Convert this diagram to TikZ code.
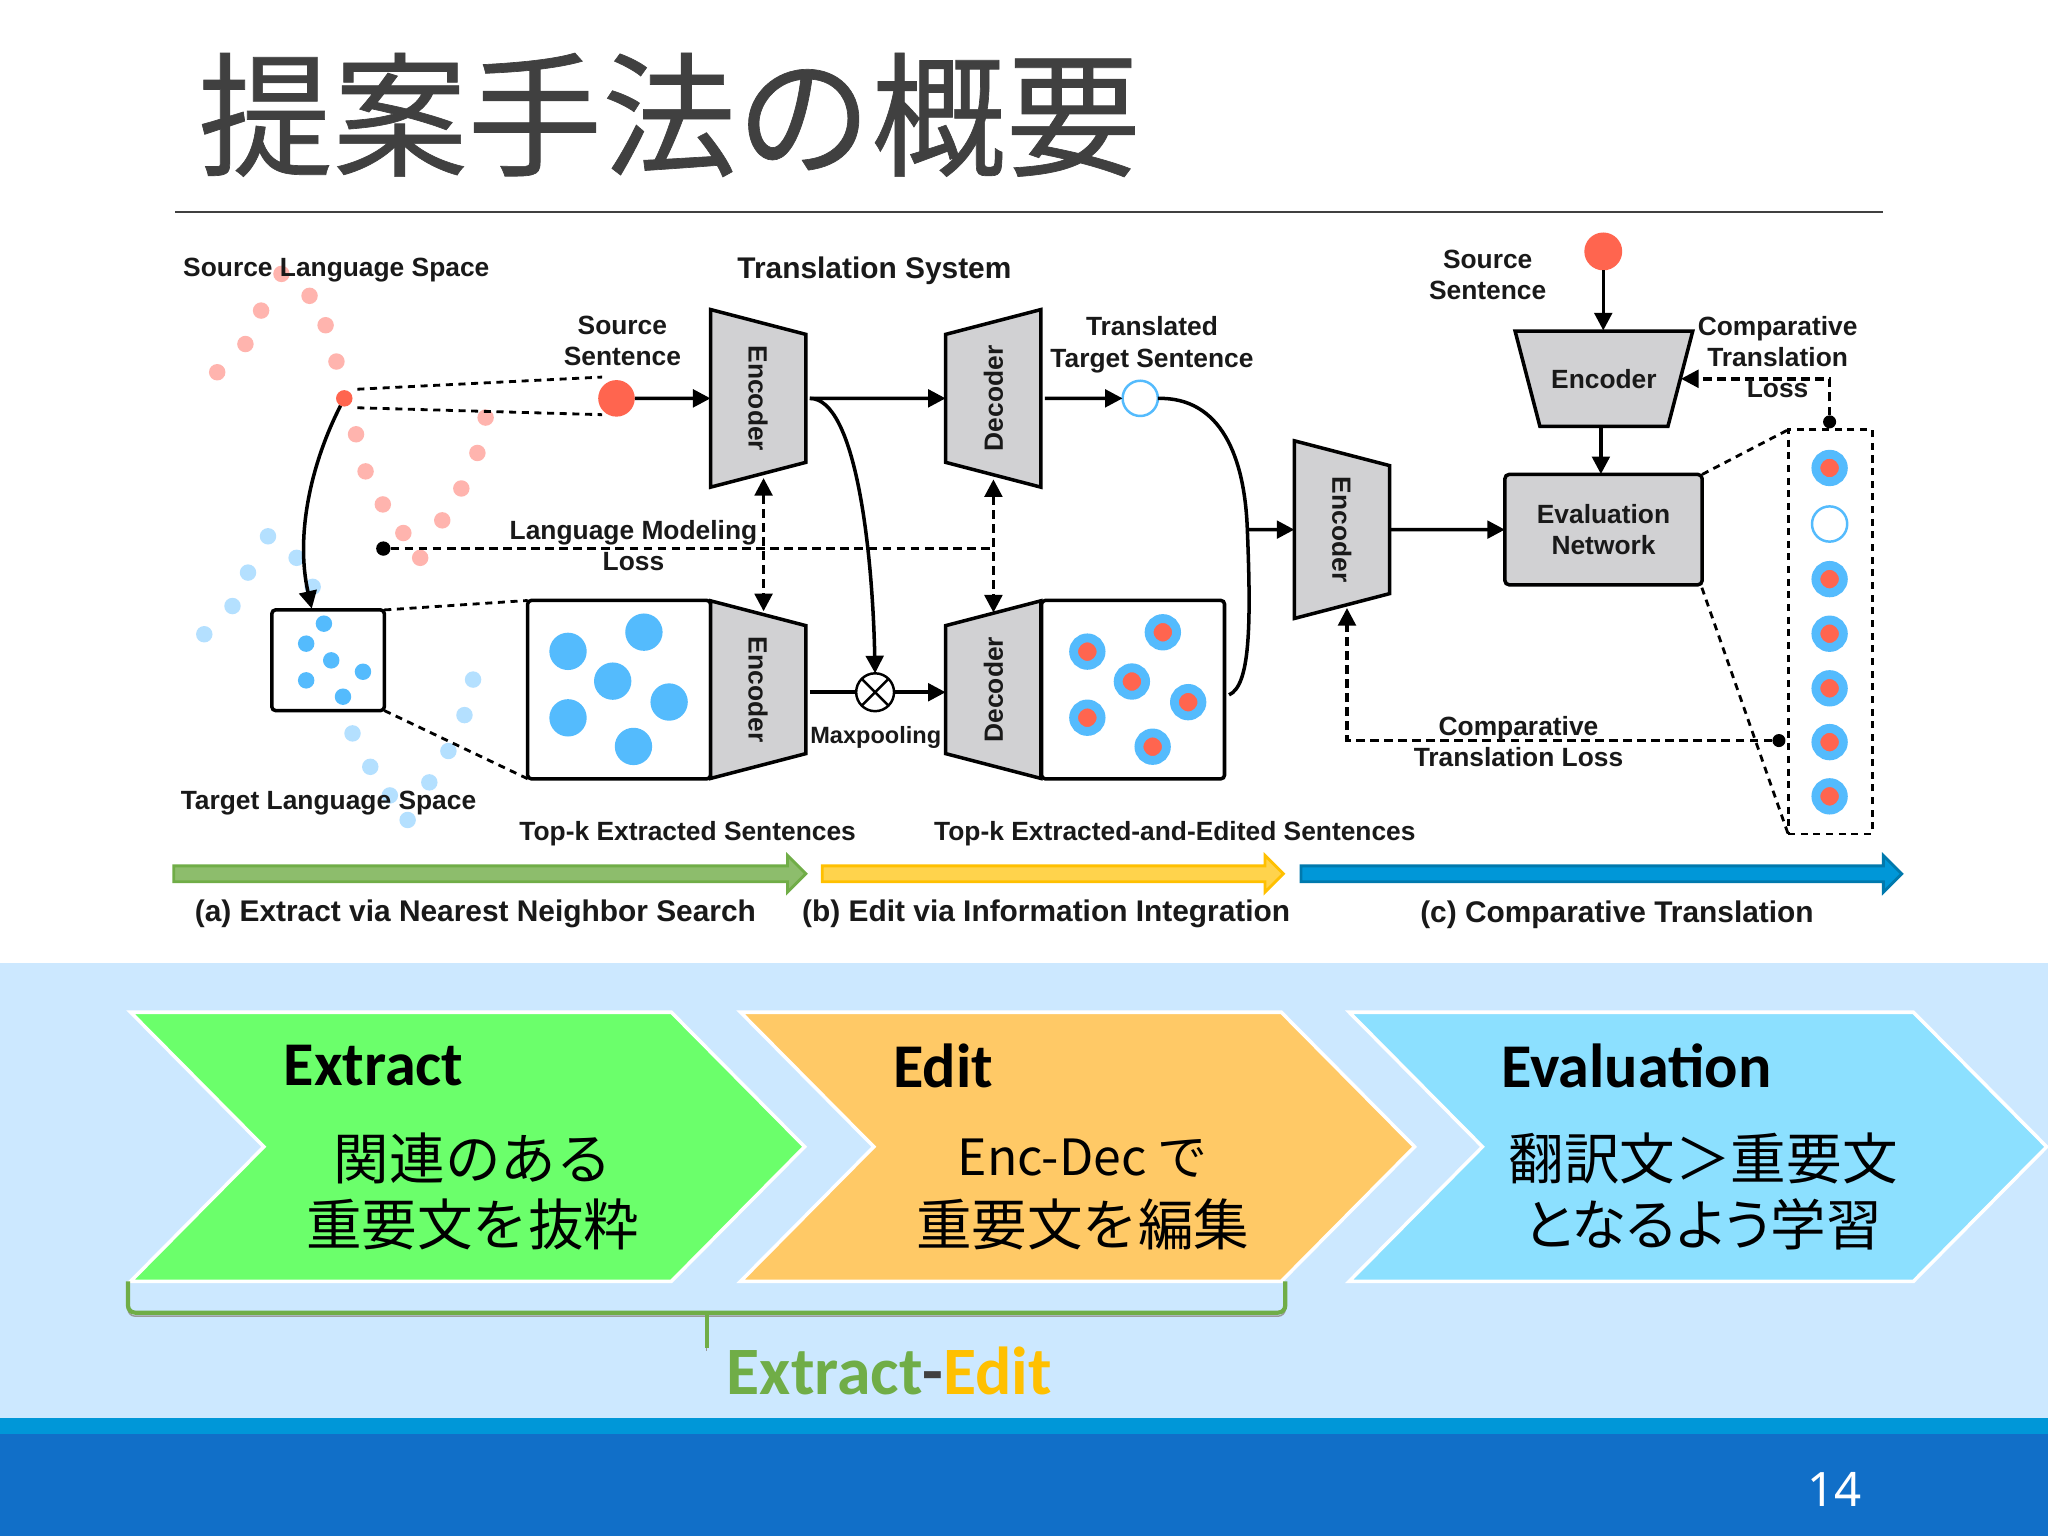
\documentclass[tikz,border=0pt]{standalone}
\usepackage{fontspec}
\setmainfont{Liberation Sans}
\newfontfamily\cjk{Noto Sans CJK JP}
\newfontfamily\cjkhead{Noto Sans CJK JP}[FakeBold=0.5]
\newfontfamily\cali{Carlito}
\usetikzlibrary{shapes.geometric,shapes.arrows,arrows.meta}
\newcommand{\un}{0.013061cm}
\newcommand{\stepchevron}[3]{\draw[stepshape,fill=#3] (#1,775) -- ++(#2,0) -- ++(102,103) -- ++(-102,103) -- ++(-#2,0) -- ++(102,-103) -- cycle;}
\definecolor{boxgray}{HTML}{D1D1D3}
\definecolor{srcred}{HTML}{FF654F}
\definecolor{srclight}{HTML}{FFB4AE}
\definecolor{tgtblue}{HTML}{54BBFD}
\definecolor{tgtlight}{HTML}{B4E0FF}
\definecolor{inkgray}{HTML}{404040}
\definecolor{paleblue}{HTML}{CCE8FF}
\definecolor{bandblue}{HTML}{0097D8}
\definecolor{footblue}{HTML}{116FC8}
\definecolor{extractgreen}{HTML}{70AD47}
\definecolor{editgold}{HTML}{FFC000}
\definecolor{stepgreen}{HTML}{6BFF6B}
\definecolor{steporange}{HTML}{FFC966}
\definecolor{stepblue}{HTML}{8CE0FF}
\begin{document}
\begin{tikzpicture}[
      x=0.013061cm,y=-0.013061cm,
      lbl/.style={font=\bfseries\fontsize{7.5}{8.9}\selectfont,align=center,inner sep=0,outer sep=0,text=black!90},
      big/.style={lbl,font=\bfseries\fontsize{8.5}{10}\selectfont},
      dot/.style={circle,inner sep=0,outer sep=0,minimum size=#1*\un},
      src/.style={dot=12.6,fill=srclight},
      tgt/.style={dot=12.6,fill=tgtlight},
      inbox/.style={dot=12.6,fill=tgtblue},
      large/.style={dot=28.6,fill=tgtblue},
      edited/.style={circle,inner sep=0,outer sep=0,minimum size=21*\un,fill=srcred,draw=tgtblue,line width=6.8*\un},
      open/.style={circle,inner sep=0,outer sep=0,minimum size=27*\un,fill=white,draw=tgtblue,line width=.7pt},
      trap/.style={trapezium,draw,fill=boxgray,line width=1pt,trapezium stretches body=true,trapezium left angle=75.4,trapezium right angle=75.4,minimum width=136*\un,lbl,inner xsep=0,inner ysep=10.81pt,text height=5.5pt,text depth=0pt},
      encoder/.style={trap,rotate=-90},
      decoder/.style={trap,rotate=90},
      sentbox/.style={draw,fill=white,line width=1pt,rounded corners=1pt,inner sep=0,outer sep=0},
      arr/.style={line width=1pt,-{Triangle[length=5pt,width=5pt]}},
      solid line/.style={line width=1pt},
      lossline/.style={line width=1pt,dash pattern=on 2.5pt off 1.5pt},
      zoomline/.style={line width=.8pt,dash pattern=on 2pt off 1.6pt},
      loss/.style={dot=11,fill=black},
      phase/.style={single arrow,single arrow head extend=8*\un,single arrow tip angle=90,minimum width=26*\un,inner xsep=0,inner ysep=5*\un,outer sep=0,line width=.8pt},
      stepshape/.style={draw=white,line width=1pt,line join=miter},
      steptitle/.style={font=\cali\bfseries\fontsize{17.7}{20}\selectfont,inner sep=0},
      steptext/.style={font=\cjk\fontsize{15.8}{18.8}\selectfont,align=center,inner sep=0},
      bracket/.style={draw=extractgreen,line width=1.2pt,rounded corners=2pt,preaction={draw=black!40,transform canvas={yshift=-1pt}}}
    ]
    \useasboundingbox (0,0) rectangle (1568,1176);

    % slide background
    \fill[white] (0,0) rectangle (1568,737);
    \fill[paleblue] (0,737) rectangle (1568,1086);
    \fill[bandblue] (0,1086) rectangle (1568,1098);
    \fill[footblue] (0,1098) rectangle (1568,1176);

    % title and rule
    \node[font=\cjkhead\fontsize{38.3}{40}\selectfont,text=inkgray,inner sep=0] (title) at (512.5,88) {提案手法の概要};
    \draw[inkgray,line width=.7pt] (134,162.5) -- (1442,162.5);

    % source language space
    \node[src] (s1) at (215.5,209.7) {};
    \node[src] (s2) at (237,226.5) {};
    \node[src] (s3) at (199.9,237.8) {};
    \node[src] (s4) at (249.3,249) {};
    \node[src] (s5) at (187.9,263.4) {};
    \node[src] (s6) at (257.6,276.8) {};
    \node[src] (s7) at (166.3,285) {};
    \node[src] (s8) at (272.6,332.5) {};
    \node[src] (s9) at (279.9,360.9) {};
    \node[src] (s10) at (293.1,386.2) {};
    \node[src] (s11) at (308.8,408.1) {};
    \node[src] (s12) at (321.7,427.1) {};
    \node[src] (s13) at (338.6,398.4) {};
    \node[src] (s14) at (353.2,374) {};
    \node[src] (s15) at (365.5,346.8) {};
    \node[src] (s16) at (371.8,319.7) {};
    \node[dot=12.6,fill=srcred] (picked) at (263.6,305) {};

    % target language space
    \node[tgt] (t1) at (205.2,410.6) {};
    \node[tgt] (t2) at (227.1,427.1) {};
    \node[tgt] (t3) at (189.9,438.4) {};
    \node[tgt] (t4) at (239.4,449.3) {};
    \node[tgt] (t5) at (178,464) {};
    \node[tgt] (t6) at (156.4,485.6) {};
    \node[tgt] (t7) at (362.2,520.3) {};
    \node[tgt] (t8) at (355.6,547.5) {};
    \node[tgt] (t9) at (269.9,561.5) {};
    \node[tgt] (t10) at (343.3,575) {};
    \node[tgt] (t11) at (283.5,587.1) {};
    \node[tgt] (t12) at (328.7,599) {};
    \node[tgt] (t13) at (298.5,609) {};
    \node[tgt] (t14) at (312.1,627.8) {};

    % neighbourhood box
    \node[sentbox,minimum width=86*\un,minimum height=77*\un] (near) at (251.2,505.5) {};
    \node[inbox] (n1) at (248,477.5) {};
    \node[inbox] (n2) at (234.4,492.8) {};
    \node[inbox] (n3) at (253.6,505.6) {};
    \node[inbox] (n4) at (277.9,514.3) {};
    \node[inbox] (n5) at (234.4,520.9) {};
    \node[inbox] (n6) at (262.6,533.4) {};

    % extracted sentences
    \node[sentbox,minimum width=140*\un,minimum height=136.5*\un] (topk) at (474,528) {};
    \node[large] (k1) at (434.9,498.7) {};
    \node[large] (k2) at (493,484) {};
    \node[large] (k3) at (469.1,521.5) {};
    \node[large] (k4) at (512.3,537.5) {};
    \node[large] (k5) at (434.9,549.6) {};
    \node[large] (k6) at (485,571.5) {};

    % edited sentences
    \node[sentbox,minimum width=140*\un,minimum height=136.5*\un] (topedit) at (867.5,528) {};
    \node[edited] (e1) at (832.5,498.9) {};
    \node[edited] (e2) at (890.3,484.1) {};
    \node[edited] (e3) at (866.6,521.8) {};
    \node[edited] (e4) at (909.7,537.6) {};
    \node[edited] (e5) at (832.5,549.5) {};
    \node[edited] (e6) at (882.5,571.7) {};

    % encoders and decoders
    \node[encoder] (encA) at (580.5,305) {Encoder};
    \node[decoder] (decA) at (760.5,305) {Decoder};
    \node[encoder] (encB) at (580.5,528) {Encoder};
    \node[decoder] (decB) at (760.5,528) {Decoder};
    \node[encoder] (encC) at (1027.5,405.5) {Encoder};
    \node[trap,shape border rotate=180] (encD) at (1228,290) {Encoder};
    \node[draw,fill=boxgray,line width=1pt,rounded corners=1.2pt,inner sep=0,outer sep=0,minimum width=151*\un,minimum height=84.5*\un,lbl] (evalnet) at (1227.7,405.5) {Evaluation\\Network};

    % sentence circles
    \node[dot=28,fill=srcred] (srcA) at (472,305) {};
    \node[open] (transl) at (873,305) {};
    \node[dot=29,fill=srcred] (srcB) at (1227.5,192.5) {};
    \node[circle,draw,fill=white,line width=.7pt,inner sep=0,outer sep=0,minimum size=29*\un,path picture={\draw[line width=.7pt] (path picture bounding box.north west) -- (path picture bounding box.south east) (path picture bounding box.south west) -- (path picture bounding box.north east);}] (maxp) at (670,530) {};

    % compared sentences
    \node[edited] (c1) at (1400.8,358.3) {};
    \node[open] (c2) at (1400.8,401.2) {};
    \node[edited] (c3) at (1400.8,443.4) {};
    \node[edited] (c4) at (1400.8,485.2) {};
    \node[edited] (c5) at (1400.8,527) {};
    \node[edited] (c6) at (1400.8,568.2) {};
    \node[edited] (c7) at (1400.8,609.7) {};
    \node[draw,zoomline,inner sep=0,outer sep=0,minimum width=64.3*\un,minimum height=309.5*\un] (pool) at (1401.2,483.8) {};

    % loss end points
    \coordinate (corner1) at (1031.3,567);
    \coordinate (corner2) at (1400.8,290);
    \node[loss] (lang) at (293.5,420) {};
    \node[loss,dot=10] (cmpA) at (1362,567) {};
    \node[loss,dot=10] (cmpB) at (1400.8,323) {};
    \coordinate (langend) at (760.6,420);
    \coordinate (enctip) at (584.6,366);
    \coordinate (enctop) at (584.6,468);
    \coordinate (dectip) at (760.6,367);
    \coordinate (dectop) at (760.6,469);

    % zoom lines
    \draw[zoomline] (273.6,298) -- (461,288.7);
    \draw[zoomline] (273.6,312.2) -- (461,317.5);
    \draw[zoomline] (near.north east) -- (topk.north west);
    \draw[zoomline] (near.south east) -- (topk.south west);
    \draw[zoomline] (evalnet.north east) -- (pool.north west);
    \draw[zoomline] (1303,450) -- (pool.south west);

    % solid connectors
    \draw[arr] (picked) .. controls (238,355) and (226,410) .. (238.7,466);
    \draw[arr] (srcA) -- (encA.south);
    \draw[arr,shorten <=3*\un] (encA.north) -- (decA.north);
    \draw[arr,shorten <=3*\un] (decA.south) -- (transl);
    \draw[arr,shorten <=3*\un] (encA.north) .. controls (655,305) and (668,420) .. (maxp.north);
    \draw[solid line,shorten <=3*\un] (encB.north |- maxp) -- (maxp);
    \draw[arr] (maxp) -- (decB.north |- maxp);
    \coordinate (merge) at (955,405.5);
    \draw[solid line] (transl.east) .. controls (935,304) and (953,350) .. (merge) .. controls (958,480) and (957,525) .. (941,532);
    \draw[arr] (merge) -- (encC.south);
    \draw[arr] (encC.north) -- (evalnet.west);
    \draw[arr] (srcB) -- (1227.5,253);
    \draw[arr] (1225.7,328) -- (1225.7,363);

    % loss connectors
    \draw[lossline] (lang) -- (langend);
    \draw[lossline,{Triangle[length=5pt,width=5pt]}-{Triangle[length=5pt,width=5pt]}] (enctip) -- (enctop);
    \draw[lossline,{Triangle[length=5pt,width=5pt]}-{Triangle[length=5pt,width=5pt]}] (dectip) -- (dectop);
    \draw[lossline,-{Triangle[length=5pt,width=5pt]}] (cmpA) -- (corner1) -- (1031.3,465.5);
    \draw[lossline,-{Triangle[length=5pt,width=5pt]}] (cmpB) -- (corner2) -- (1287,290);

    % labels
    \node[lbl] (srcspace) at (257.5,206.5) {Source Language Space};
    \node[big] (system) at (669.5,207) {Translation System};
    \node[lbl] (srclbl) at (476.5,261) {Source\\Sentence};
    \node[lbl] (translbl) at (882,264) {Translated\\Target Sentence};
    \node[lbl] (srclblB) at (1139,210.5) {Source\\Sentence};
    \node[lbl] (cmplblB) at (1361,273.5) {Comparative\\Translation\\Loss};
    \node[lbl] (langlbl) at (485,417.5) {Language Modeling\\Loss};
    \node[lbl] (cmplblA) at (1162.6,567.5) {Comparative\\Translation Loss};
    \node[lbl,font=\bfseries\fontsize{6.7}{8}\selectfont] (maxlbl) at (670.5,564.5) {Maxpooling};
    \node[lbl] (tgtspace) at (251.5,615) {Target Language Space};
    \node[lbl] (topklbl) at (526.5,638) {Top-k Extracted Sentences};
    \node[lbl] (topeditlbl) at (899.5,638) {Top-k Extracted-and-Edited Sentences};

    % phase arrows
    \node[phase,minimum height=484*\un,draw=extractgreen,fill=extractgreen!80] (phaseA) at (372,669) {};
    \node[phase,minimum height=353*\un,draw=editgold,fill=editgold!70] (phaseB) at (803,669) {};
    \node[phase,minimum height=460*\un,draw=bandblue!80!black,fill=bandblue] (phaseC) at (1223,669) {};
    \node[big] (phaseAlbl) at (364,700) {(a) Extract via Nearest Neighbor Search};
    \node[big] (phaseBlbl) at (801,700) {(b) Edit via Information Integration};
    \node[big] (phaseClbl) at (1238,700) {(c) Comparative Translation};

    % step chevrons
    \stepchevron{100}{414}{stepgreen}
    \stepchevron{567}{414}{steporange}
    \stepchevron{1033}{432}{stepblue}
    \node[steptitle] (extract) at (286,816) {Extract};
    \node[steptitle] (edit) at (722,816) {Edit};
    \node[steptitle] (evaluation) at (1253,816) {Evaluation};
    \node[steptext] (extracttxt) at (362,912.5) {関連のある\\重要文を抜粋};
    \node[steptext] (edittxt) at (829,914.5) {{\fontsize{14.2}{18.8}\selectfont Enc-Dec で}\\[1pt]重要文を編集};
    \node[steptext] (evaltxt) at (1304,912.5) {翻訳文＞重要文\\{\addfontfeature{RawFeature=+palt}となるよう}学習};

    % bracket under the first two steps
    \draw[bracket] (98,981) -- (98,1005) -- (984,1005) -- (984,981);
    \draw[bracket,rounded corners=0pt] (541,1005) -- (541,1032);
    \node[steptitle,font=\cali\bfseries\fontsize{19.3}{22}\selectfont] (pair) at (681,1050) {\textcolor{extractgreen}{Extract}\textcolor{inkgray}{-}\textcolor{editgold}{Edit}};

    % page number
    \node[font=\fontspec{Noto Sans}\fontsize{13.5}{15}\selectfont,text=white,inner sep=0] (page) at (1404.5,1140) {14};
\end{tikzpicture}
\end{document}
